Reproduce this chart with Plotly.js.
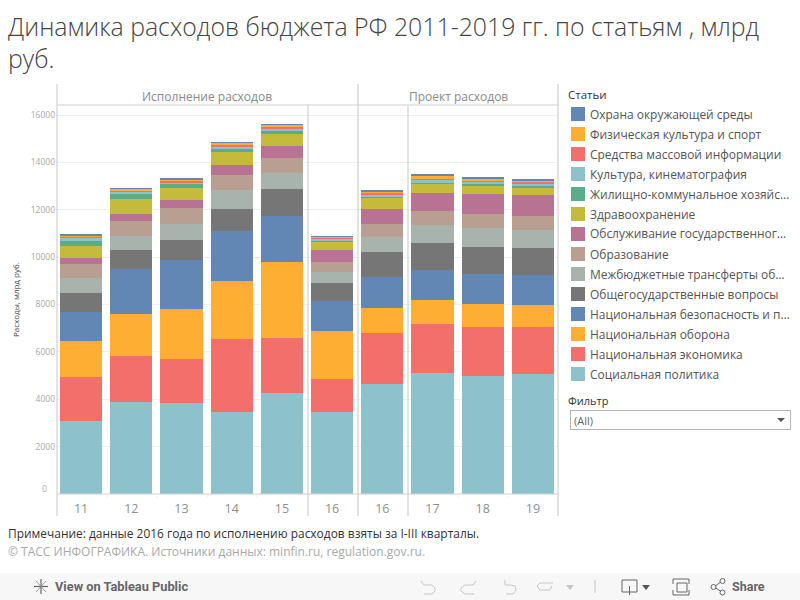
<!DOCTYPE html>
<html><head><meta charset="utf-8">
<script src="https://cdn.plot.ly/plotly-3.0.1.min.js"></script>
<style>html,body{margin:0;padding:0;background:#fff}</style></head>
<body><div id="chart" style="width:800px;height:600px"></div>
<script>
const tickLabels = ['11','12','13','14','15','16','16','17','18','19'];
const yTicks = [2000,4000,6000,8000,10000,12000,14000,16000];
const socialPolicy = [3100,3880,3830,3450,4260,3450,4640,5100,4990,5070];
const economy = [1850,1945,1860,3080,2320,1400,2160,2080,2060,1970];
const defense = [1500,1795,2100,2460,3220,2030,1050,1000,970,930];
const security = [1230,1880,2090,2110,1940,1250,1310,1280,1270,1280];
const generalIssues = [800,800,840,930,1140,780,1060,1140,1140,1140];
const transfers = [640,590,680,800,670,460,630,760,800,760];
const education = [590,635,670,640,630,430,550,590,590,590];
const debtService = [270,295,340,420,510,500,630,760,845,880];
const health = [490,635,510,550,510,340,470,380,375,340];
const housing = [250,210,170,120,130,80,40,60,50,50];
const culture = [80,85,80,90,120,50,80,110,90,90];
const media = [90,80,80,80,80,40,90,80,60,80];
const sport = [25,50,40,90,50,40,80,80,80,60];
const environment = [20,38,40,40,40,40,50,90,60,60];
const seriesNames = ['Социальная политика','Национальная экономика','Национальная оборона','Национальная безопасность и п…','Общегосударственные вопросы','Межбюджетные трансферты об…','Образование','Обслуживание государственног…','Здравоохранение','Жилищно-коммунальное хозяйс…','Культура, кинематография','Средства массовой информации','Физическая культура и спорт','Охрана окружающей среды'];
const seriesColors = ['#8dc1cb','#f26f6b','#ffae34','#6287b4','#767676','#a9b3ae','#b89f92','#b97392','#c4ba3c','#58ae8a','#8dc1cb','#f26f6b','#ffae34','#6287b4'];
const seriesValues = [socialPolicy,economy,defense,security,generalIssues,transfers,education,debtService,health,housing,culture,media,sport,environment];

const L=56,R=558,T=105,B=494;
const X=p=>(p-L)/(R-L), Y=p=>(B-p)/(B-T);
const FONT='"Open Sans", sans-serif';
const xs=tickLabels.map((_,i)=>i);

const traces=seriesValues.map((v,i)=>({type:'bar',x:xs,y:v,name:seriesNames[i],
  marker:{color:seriesColors[i],line:{width:0}},hoverinfo:'name+y'}));

function line(x0,y0,x1,y1,c,w){return {type:'line',xref:'paper',yref:'paper',x0:X(x0),x1:X(x1),y0:Y(y0),y1:Y(y1),line:{color:c||'#d0d0d0',width:w||1.2},layer:'above'};}
function rect(x0,y0,x1,y1,fill,lc,layer){return {type:'rect',xref:'paper',yref:'paper',x0:X(x0),x1:X(x1),y0:Y(y0),y1:Y(y1),fillcolor:fill||'rgba(0,0,0,0)',line:{color:lc||'rgba(0,0,0,0)',width:lc?1:0},layer:layer||'above'};}
function pathPx(pts,fill,lc,w,close){
  const d=pts.map((p,i)=>(i?'L':'M')+X(p[0]).toFixed(5)+','+Y(p[1]).toFixed(5)).join('')+(close?'Z':'');
  return {type:'path',xref:'paper',yref:'paper',path:d,fillcolor:fill||'rgba(0,0,0,0)',line:{color:lc||'rgba(0,0,0,0)',width:lc?(w||1):0},layer:'above'};
}
function txt(x,y,t,size,color,anchor,extra){return Object.assign({xref:'paper',yref:'paper',x:X(x),y:Y(y),text:t,showarrow:false,xanchor:anchor||'left',yanchor:'middle',font:{family:FONT,size:size,color:color},borderpad:0,borderwidth:0},extra||{});}

const legendOrder=seriesNames.map((_,i)=>seriesNames.length-1-i);
const legendSwatches=legendOrder.map((s,row)=>rect(571,107+row*20,585,121+row*20,seriesColors[s]));
const legendLabels=legendOrder.map((s,row)=>txt(590,114+row*20,seriesNames[s],11.95,'#555555'));

const shapes=[
  rect(0,573,800,600,'#f7f7f7',null,'below'),
  line(57,84,57,516),line(308,105,308,516),line(358,84,358,516),line(408,105,408,516),line(558,84,558,516),
  line(57,105,558,105),line(57,494,558,494),
  line(107,494,107,498,'#eeeeee',1),line(157,494,157,498,'#eeeeee',1),line(207,494,207,498,'#eeeeee',1),line(257,494,257,498,'#eeeeee',1),line(458,494,458,498,'#eeeeee',1),line(508,494,508,498,'#eeeeee',1),
  rect(570.5,410.5,790.5,429.5,'#ffffff','#b4b4b4'),
  pathPx([[777,418],[785,418],[781,422]],'#555555',null,0,true),
  line(41,579,41,594,'#666',1.2),line(34,586.5,48,586.5,'#666',1.2),line(36,581,46,592,'#888',0.8),line(46,581,36,592,'#888',0.8),
  pathPx([[421,581],[424,585],[432,585],[435,588],[435,591],[432,594],[424,594]],null,'#c6c6c6',1),
  pathPx([[476,581],[473,585],[465,585],[461,588],[461,591],[465,594],[474,594]],null,'#c6c6c6',1),
  pathPx([[505,580],[505,585],[510,585],[515,586],[516,590],[513,594],[506,594]],null,'#c6c6c6',1),
  pathPx([[553,583],[540,583],[537,586],[540,590],[550,590],[552,586]],null,'#c6c6c6',1),
  pathPx([[566,585],[574,585],[570,590]],'#c6c6c6',null,0,true),
  line(595,580,595,593,'#c6c6c6',1),
  pathPx([[630,592],[622,592],[622,580],[637,580],[637,592],[630,592]],null,'#666',1),
  line(629.5,586,629.5,595,'#666',1),
  pathPx([[642,585],[650,585],[646,590]],'#555',null,0,true),
  rect(677,583,687,592,null,'#666'),
  pathPx([[673,584],[673,579],[689,579],[689,584]],null,'#666',1),
  pathPx([[673,590],[673,595],[689,595],[689,590]],null,'#666',1),
  pathPx([[714,587],[722,581]],null,'#666',1),pathPx([[714,587],[722,592]],null,'#666',1),
  {type:'circle',xref:'paper',yref:'paper',x0:X(711),x1:X(716),y0:Y(584.5),y1:Y(589.5),fillcolor:'#f7f7f7',line:{color:'#666',width:1},layer:'above'},
  {type:'circle',xref:'paper',yref:'paper',x0:X(720),x1:X(725),y0:Y(578.5),y1:Y(583.5),fillcolor:'#f7f7f7',line:{color:'#666',width:1},layer:'above'},
  {type:'circle',xref:'paper',yref:'paper',x0:X(720),x1:X(725),y0:Y(590),y1:Y(595),fillcolor:'#f7f7f7',line:{color:'#666',width:1},layer:'above'}
].concat(legendSwatches);

const annotations=[
  txt(207,96,'Исполнение расходов',12,'#8a8a8a','center'),
  txt(458,96,'Проект расходов',12,'#8a8a8a','center'),
  txt(15,300,'Расходы, млрд руб.',8,'#444444','center',{textangle:-90}),
  {xref:'paper',yref:'y',x:X(49),y:0,yshift:6,text:'0',showarrow:false,xanchor:'right',yanchor:'middle',font:{family:FONT,size:8.5,color:'#a8a8a8'}},
  txt(8,533,'Примечание: данные 2016 года по исполнению расходов взяты за I-III кварталы.',11.95,'#333333'),
  txt(8,551,'© ТАСС ИНФОГРАФИКА. Источники данных: minfin.ru, regulation.gov.ru.',12,'#a8a8a8'),
  txt(568,94,'Статьи',11.5,'#333333'),
  txt(568,400.5,'Фильтр',11,'#333333'),
  txt(574,420,'(All)',11,'#666666'),
  txt(55,586,'<b>View on Tableau Public</b>',12,'#666666','left',{font:{family:'Roboto, sans-serif',size:12.8,color:'#666666'}}),
  txt(732,586,'<b>Share</b>',12,'#666666','left',{font:{family:'Roboto, sans-serif',size:12.5,color:'#666666'}})
].concat(legendLabels);

const layout={
  width:800,height:600,paper_bgcolor:'#fff',plot_bgcolor:'#fff',
  margin:{l:L,r:800-R,t:T,b:600-B,autoexpand:false,pad:0},
  barmode:'stack',bargap:0.16,showlegend:false,
  title:{text:'Динамика расходов бюджета РФ 2011-2019 гг. по статьям , млрд<br>руб.',x:8/800,xref:'container',xanchor:'left',y:1-36/600,yref:'container',yanchor:'top',font:{family:FONT,size:24.85,color:'#444444',weight:300},automargin:false},
  xaxis:{range:[-0.5,9.5],tickmode:'array',tickvals:xs,ticktext:tickLabels,showgrid:false,zeroline:false,ticks:'',showline:false,tickfont:{family:FONT,size:12.5,color:'#8f8f8f'},ticklabelstandoff:5,fixedrange:true},
  yaxis:{range:[0,(B-T)/((B-115)/16000)],tickmode:'array',tickvals:yTicks,ticktext:yTicks.map(String),showgrid:true,gridcolor:'#efefef',gridwidth:1,zeroline:false,ticks:'',showline:false,tickfont:{family:FONT,size:8.5,color:'#a8a8a8'},fixedrange:true},
  shapes:shapes,annotations:annotations
};
Plotly.newPlot('chart',traces,layout,{displayModeBar:false,responsive:false});
</script></body></html>
